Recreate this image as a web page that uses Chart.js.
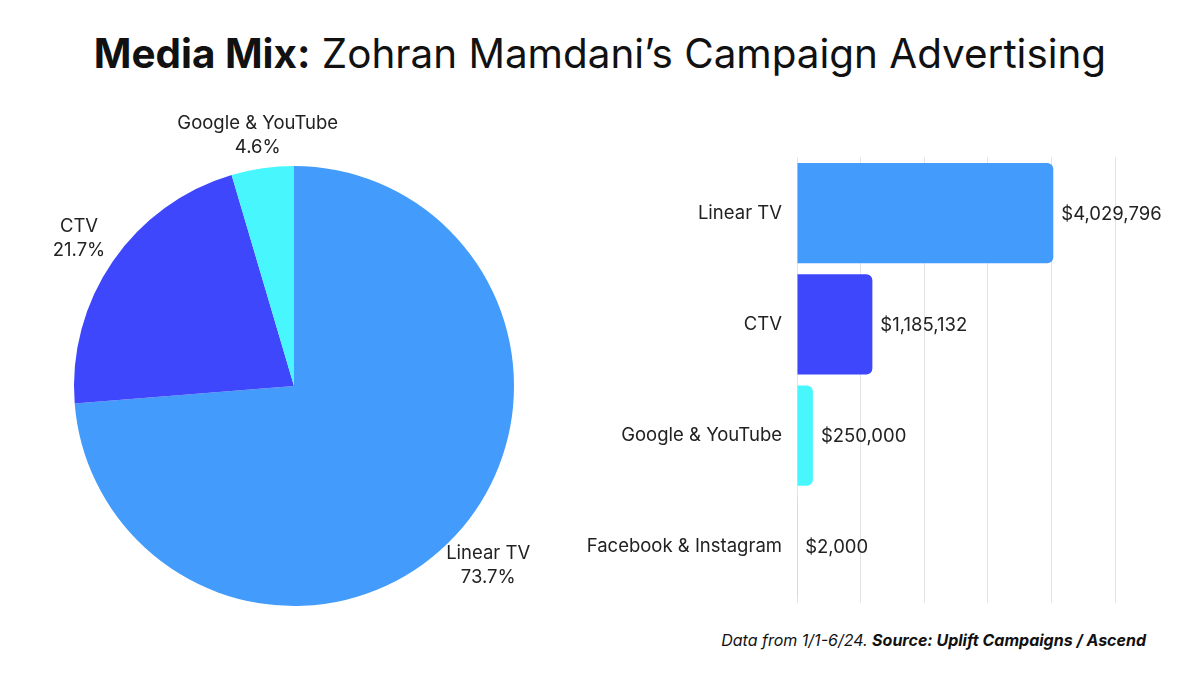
<!DOCTYPE html>
<html lang="en">
<head>
  <meta charset="UTF-8" />
  <title>Media Mix: Zohran Mamdani’s Campaign Advertising</title>
  <script src="https://cdn.jsdelivr.net/npm/chart.js"></script>
  <style>
    html, body { margin: 0; padding: 0; background: #fff; }
    body { width: 1200px; height: 675px; position: relative; overflow: hidden; font-family: Inter, "Noto Sans", sans-serif; color: #111; }
    #title { position: absolute; left: 0; top: 30px; width: 1200px; text-align: center; font-size: 40.4px; line-height: 48px; font-weight: 400; white-space: nowrap; }
    #title b { font-weight: 700; }
    #source { position: absolute; right: 54px; top: 630px; font-size: 16px; line-height: 20px; font-style: italic; color: #111; white-space: nowrap; }
    #source b { font-weight: 700; }
    #pie-wrap { position: absolute; left: 0; top: 100px; width: 590px; height: 560px; }
    #bar-wrap { position: absolute; left: 560px; top: 140px; width: 640px; height: 480px; }
  </style>
</head>
<body>
  <div id="title"><b>Media Mix:</b> Zohran Mamdani’s Campaign Advertising</div>
  <div id="pie-wrap"><canvas id="chart-pie"></canvas></div>
  <div id="bar-wrap"><canvas id="chart-bar"></canvas></div>
  <div id="source">Data from 1/1-6/24. <b>Source: Uplift Campaigns / Ascend</b></div>

  <script>
    // spend by channel, 1/1 - 6/24
    const categories = ['Linear TV', 'CTV', 'Google & YouTube', 'Facebook & Instagram'];
    const spend = [4029796, 1185132, 250000, 2000];
    const colors = ['#439cfc', '#3f47fd', '#47f7fd', '#c4c4f4'];
    const xTicks = [0, 1000000, 2000000, 3000000, 4000000, 5000000];

    // pie only shows the three visible channels
    const pieLabels = categories.slice(0, 3);
    const pieValues = spend.slice(0, 3);
    const pieTotal = pieValues.reduce((a, b) => a + b, 0);

    const font = 'Inter, "Noto Sans", sans-serif';
    const labelSize = 18.5;
    Chart.defaults.font.family = font;
    Chart.defaults.color = '#222';

    const money = v => '$' + v.toLocaleString('en-US');

    // labels sit just outside the slice, pushed out by half the text box
    const pieLabelPlugin = {
      id: 'pieLabels',
      afterDatasetsDraw(chart) {
        const ctx = chart.ctx;
        const meta = chart.getDatasetMeta(0);
        const lineH = 24;
        ctx.save();
        ctx.font = labelSize + 'px ' + font;
        ctx.fillStyle = '#222';
        ctx.textAlign = 'center';
        ctx.textBaseline = 'middle';
        meta.data.forEach((arc, i) => {
          const mid = (arc.startAngle + arc.endAngle) / 2;
          const pct = (pieValues[i] / pieTotal * 100).toFixed(1) + '%';
          const w = Math.max(ctx.measureText(pieLabels[i]).width, ctx.measureText(pct).width);
          const c = Math.abs(Math.cos(mid)), s = Math.abs(Math.sin(mid));
          const ext = Math.min(c > 0.001 ? (w / 2) / c : 1e9, s > 0.001 ? lineH / s : 1e9);
          const r = arc.outerRadius + 9 + ext;
          const x = arc.x + Math.cos(mid) * r;
          const y = arc.y + Math.sin(mid) * r;
          ctx.fillText(pieLabels[i], x, y - lineH / 2);
          ctx.fillText(pct, x, y + lineH / 2);
        });
        ctx.restore();
      }
    };

    const barLabelPlugin = {
      id: 'barLabels',
      afterDatasetsDraw(chart) {
        const ctx = chart.ctx;
        const meta = chart.getDatasetMeta(0);
        ctx.save();
        ctx.font = labelSize + 'px ' + font;
        ctx.fillStyle = '#222';
        ctx.textAlign = 'left';
        ctx.textBaseline = 'middle';
        meta.data.forEach((bar, i) => {
          ctx.fillText(money(spend[i]), bar.x + 8, bar.y + 1);
        });
        ctx.restore();
      }
    };

    new Chart(document.getElementById('chart-pie'), {
      type: 'pie',
      data: {
        labels: pieLabels,
        datasets: [{ data: pieValues, backgroundColor: colors.slice(0, 3), borderWidth: 0 }]
      },
      options: {
        responsive: true,
        maintainAspectRatio: false,
        animation: false,
        layout: { padding: { left: 74, right: 76, top: 66, bottom: 54 } },
        plugins: { legend: { display: false }, tooltip: { enabled: false } }
      },
      plugins: [pieLabelPlugin]
    });

    new Chart(document.getElementById('chart-bar'), {
      type: 'bar',
      data: {
        labels: categories,
        datasets: [{
          data: spend,
          backgroundColor: colors,
          borderRadius: 6,
          borderSkipped: 'start',
          categoryPercentage: 0.9,
          barPercentage: 1.0
        }]
      },
      options: {
        indexAxis: 'y',
        responsive: true,
        maintainAspectRatio: false,
        animation: false,
        layout: { padding: { left: 0, right: 85, top: 17.5, bottom: 17.5 } },
        plugins: { legend: { display: false }, tooltip: { enabled: false } },
        scales: {
          x: {
            min: 0,
            max: 5000000,
            afterBuildTicks: s => { s.ticks = xTicks.map(v => ({ value: v })); },
            afterFit: s => { s.height = 0; s.paddingLeft = 0; s.paddingRight = 0; },
            ticks: { display: false },
            grid: { color: '#e4e4e4', drawTicks: false },
            border: { display: false }
          },
          y: {
            afterFit: s => { s.width = 237; s.paddingTop = 0; s.paddingBottom = 0; },
            ticks: { padding: 15, color: '#222', font: { size: labelSize } },
            grid: { display: false, drawTicks: false },
            border: { display: false }
          }
        }
      },
      plugins: [barLabelPlugin]
    });
  </script>
</body>
</html>
